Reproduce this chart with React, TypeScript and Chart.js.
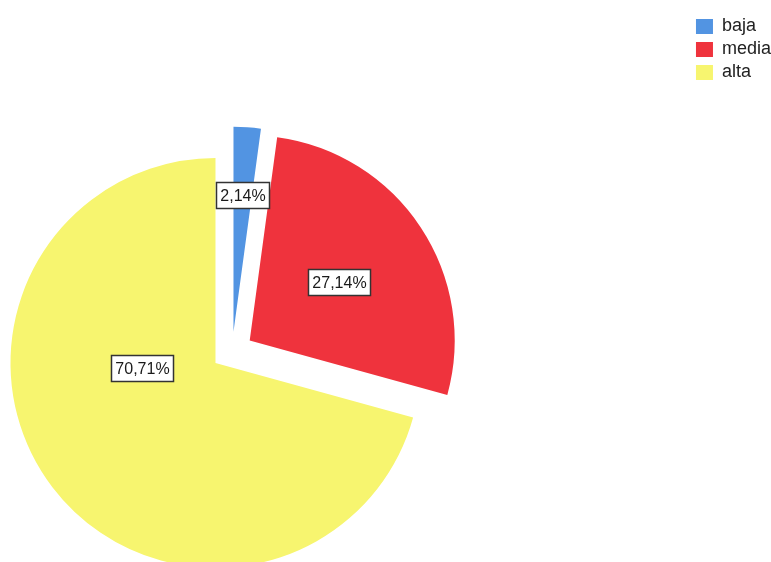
import React, { useEffect, useRef } from "react";
import { Chart, registerables } from "chart.js";

Chart.register(...registerables);

// ---- data ----
const categories = ["baja", "media", "alta"];
const percentValues = [2.14, 27.14, 70.71];

// ---- styles ----
const sliceColors = ["#5294E2", "#EF333D", "#F7F56F"];
const explodeDistance = [36, 41, 0];
// degrees clockwise from 12 o'clock; null => slice mid-angle
const explodeAngle: (number | null)[] = [30, null, null];
const labelRadiusFraction = [0.67, 0.52, 0.36];
const labelAngle: (number | null)[] = [null, null, 266];

const FONT = "'Liberation Sans', Arial, sans-serif";

// canvas is larger than the view so the pie can run off the bottom/left like the reference
const CANVAS_W = 1041;
const CANVAS_H = 714;
const CANVAS_SHIFT_X = -260;

const fmtPct = (v: number) => v.toFixed(2).replace(".", ",") + "%";

const explodePlugin = {
  id: "explodeSlices",
  afterDatasetUpdate(chart: any, args: any) {
    const meta = args.meta ?? chart.getDatasetMeta(args.index);
    meta.data.forEach((arc: any, i: number) => {
      const d = explodeDistance[i] || 0;
      if (!d) return;
      const a =
        explodeAngle[i] != null
          ? ((explodeAngle[i] as number) - 90) * (Math.PI / 180)
          : (arc.startAngle + arc.endAngle) / 2;
      arc.x += Math.cos(a) * d;
      arc.y += Math.sin(a) * d;
    });
  },
};

const labelPlugin = {
  id: "sliceLabels",
  afterDatasetsDraw(chart: any) {
    const ctx = chart.ctx as CanvasRenderingContext2D;
    const meta = chart.getDatasetMeta(0);
    const values = chart.data.datasets[0].data as number[];
    ctx.save();
    ctx.font = `16px ${FONT}`;
    ctx.textAlign = "center";
    ctx.textBaseline = "middle";
    meta.data.forEach((arc: any, i: number) => {
      const r = arc.outerRadius;
      const a =
        labelAngle[i] != null
          ? ((labelAngle[i] as number) - 90) * (Math.PI / 180)
          : (arc.startAngle + arc.endAngle) / 2;
      const x = arc.x + Math.cos(a) * r * labelRadiusFraction[i];
      const y = arc.y + Math.sin(a) * r * labelRadiusFraction[i];
      const text = fmtPct(values[i]);
      const w = Math.round(ctx.measureText(text).width + 8);
      const h = 26;
      const bx = Math.round(x - w / 2) + 0.5;
      const by = Math.round(y - h / 2) + 0.5;
      ctx.fillStyle = "#ffffff";
      ctx.fillRect(bx, by, w, h);
      ctx.strokeStyle = "#333333";
      ctx.lineWidth = 1.5;
      ctx.strokeRect(bx, by, w, h);
      ctx.fillStyle = "#1a1a1a";
      ctx.fillText(text, bx + w / 2, by + h / 2 + 1);
    });
    ctx.restore();
  },
};

export default function App() {
  const ref = useRef<HTMLCanvasElement>(null);
  useEffect(() => {
    if (!ref.current) return;
    const chart = new Chart(ref.current, {
      type: "pie",
      data: {
        labels: categories,
        datasets: [
          {
            data: percentValues,
            backgroundColor: sliceColors,
            borderWidth: 0,
            radius: 205,
          } as any,
        ],
      },
      options: {
        responsive: false,
        animation: false,
        layout: { padding: { left: 0, right: 0, top: 12.5, bottom: 0.5 } },
        plugins: {
          legend: {
            position: "right",
            align: "start",
            labels: {
              font: { family: FONT, size: 18 },
              color: "#222222",
              boxWidth: 17,
              boxHeight: 15,
              padding: 5,
            },
          },
          tooltip: { enabled: false },
        },
      } as any,
      plugins: [explodePlugin, labelPlugin],
    });
    return () => chart.destroy();
  }, []);
  return (
    <div
      style={{
        position: "fixed",
        left: 0,
        top: 0,
        width: 771,
        height: 562,
        overflow: "hidden",
        background: "#ffffff",
      }}
    >
      <canvas
        ref={ref}
        width={CANVAS_W}
        height={CANVAS_H}
        style={{
          display: "block",
          position: "absolute",
          left: CANVAS_SHIFT_X,
          top: 0,
          width: CANVAS_W,
          height: CANVAS_H,
        }}
      />
    </div>
  );
}
